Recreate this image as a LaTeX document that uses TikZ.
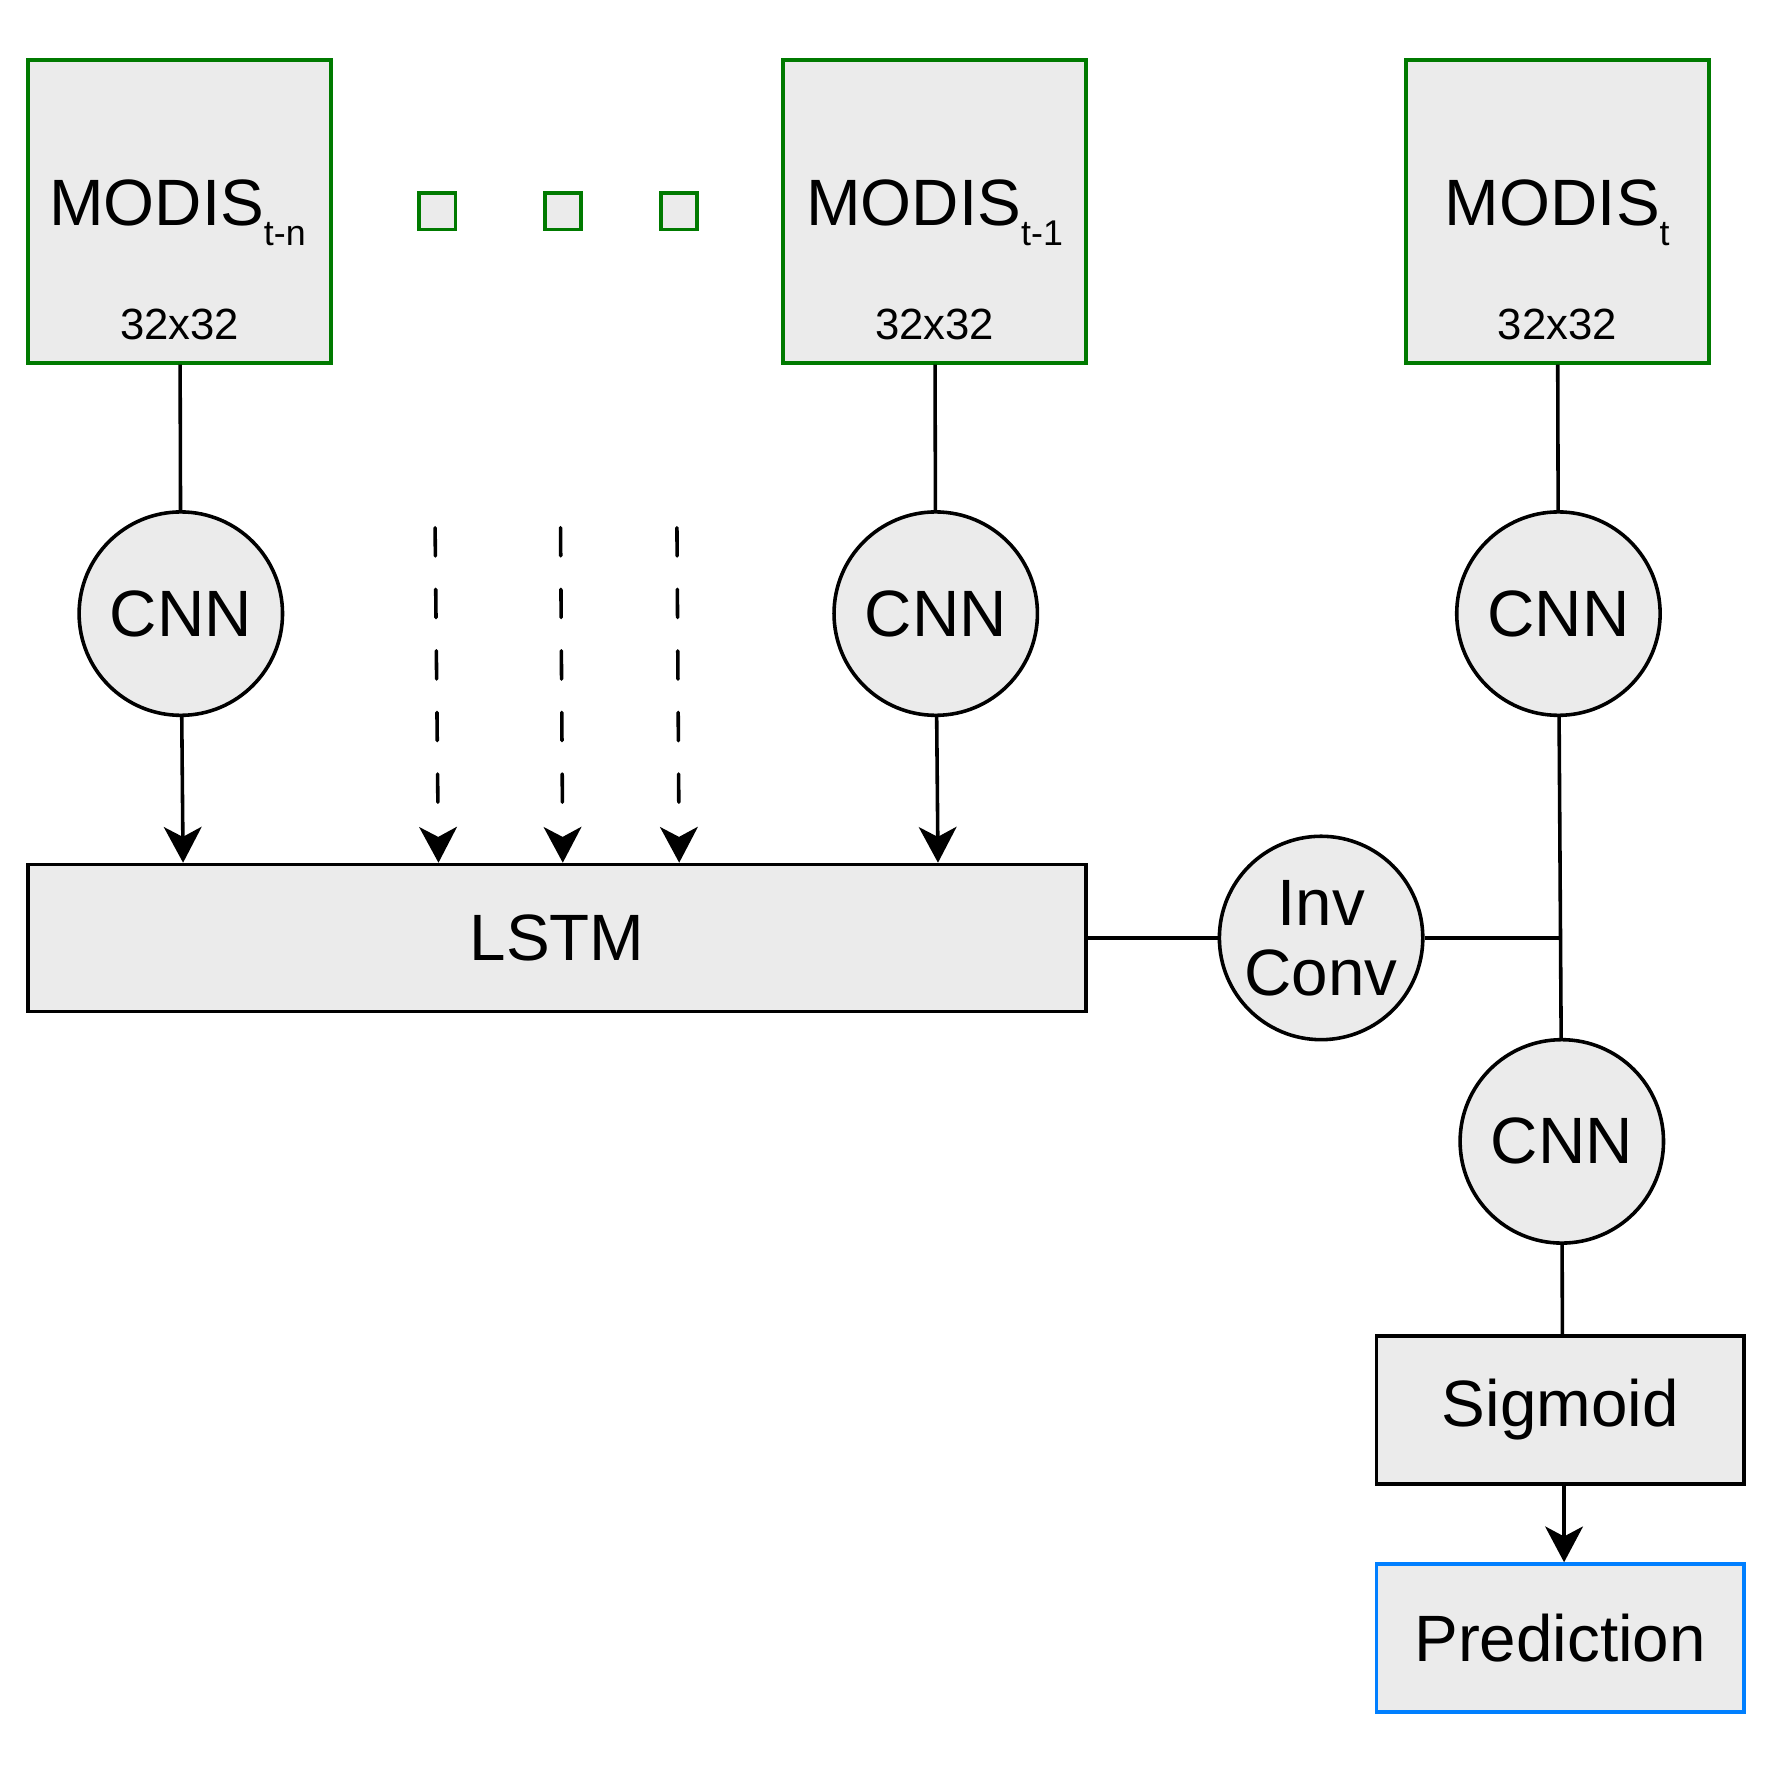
\documentclass[tikz,border=0pt]{standalone}
\usepackage{fontspec}
\setmainfont{Liberation Sans}
\usepackage{xcolor}
\usetikzlibrary{arrows.meta}
\definecolor{boxfill}{HTML}{EBEBEB}
\definecolor{modisgreen}{HTML}{007A00}
\definecolor{predblue}{HTML}{007FFF}
\newcommand{\tsub}[1]{\raisebox{-5pt}{\fontsize{9}{9}\selectfont #1}}

\begin{document}
\begin{tikzpicture}[line width=0.9pt, >={Stealth[length=9pt,width=9.5pt,inset=2.5pt]}]

			\tikzstyle{modis} = [draw=modisgreen,fill=boxfill,minimum size=2.68cm,inner sep=0pt]
			\tikzstyle{gapbox} = [draw=modisgreen,fill=boxfill,minimum size=0.32cm,inner sep=0pt]
			\tikzstyle{cnnnode} = [draw,circle,fill=boxfill,minimum size=1.8cm,inner sep=0pt,align=center,font=\fontsize{16.5}{17.6}\selectfont]
			\tikzstyle{block} = [draw,fill=boxfill,inner sep=0pt,font=\fontsize{16.5}{17.6}\selectfont]
			\tikzstyle{bigtext} = [anchor=base,inner sep=0pt,font=\fontsize{16.5}{17.6}\selectfont]
			\tikzstyle{sizetext} = [anchor=base,inner sep=0pt,font=\fontsize{11}{11}\selectfont]
			\tikzstyle{dasharrow} = [->,line cap=round,
				dash pattern=on 7.1pt off 8.4pt on 7.1pt off 8.4pt on 7.1pt off 8.4pt on 7.1pt off 8.4pt on 7.1pt off 40pt]

			\useasboundingbox (0,0) rectangle (15.68,15.68);

			% inputs
			\node[modis] (m1) at (1.59,13.81) {};
			\node[bigtext] (m1lab) at ([xshift=-0.02cm,yshift=-0.13cm]m1.center) {MODIS\tsub{t-n}};
			\node[sizetext] (m1size) at ([yshift=-1.13cm]m1.center) {32x32};

			\node[gapbox] (g1) at (3.87,13.81) {};
			\node[gapbox] (g2) at (4.98,13.81) {};
			\node[gapbox] (g3) at (6.01,13.81) {};

			\node[modis] (m2) at (8.27,13.81) {};
			\node[bigtext] (m2lab) at ([yshift=-0.13cm]m2.center) {MODIS\tsub{t-1}};
			\node[sizetext] (m2size) at ([yshift=-1.13cm]m2.center) {32x32};

			\node[modis] (m3) at (13.78,13.81) {};
			\node[bigtext] (m3lab) at ([yshift=-0.13cm]m3.center) {MODIS\tsub{t}};
			\node[sizetext] (m3size) at ([yshift=-1.13cm]m3.center) {32x32};

			% encoders
			\node[cnnnode] (cnn1) at (1.60,10.25) {CNN};
			\node[cnnnode] (cnn2) at (8.28,10.25) {CNN};
			\node[cnnnode] (cnn3) at (13.79,10.25) {CNN};

			\node[block,minimum width=9.36cm,minimum height=1.30cm] (lstm) at (4.93,7.38) {LSTM};
			\node[cnnnode] (inv) at (11.69,7.38) {Inv\\Conv};
			\node[cnnnode] (cnn4) at (13.82,5.58) {CNN};

			\node[block,minimum width=3.25cm,minimum height=1.31cm] (sig) at (13.805,3.205) {Sigmoid};
			\node[block,draw=predblue,minimum width=3.25cm,minimum height=1.31cm] (pred) at (13.805,1.185) {Prediction};

			\coordinate (d1) at (3.85,11.01);
			\coordinate (d2) at (4.96,11.01);
			\coordinate (d3) at (5.99,11.01);

			\draw (m1) -- (cnn1);
			\draw (m2) -- (cnn2);
			\draw (m3) -- (cnn3);

			\draw[->] (cnn1) -- ([xshift=0.02cm]cnn1.south |- lstm.north);
			\draw[->] (cnn2) -- ([xshift=0.02cm]cnn2.south |- lstm.north);
			\draw[dasharrow] (d1) -- ([xshift=0.03cm]d1 |- lstm.north);
			\draw[dasharrow] (d2) -- ([xshift=0.02cm]d2 |- lstm.north);
			\draw[dasharrow] (d3) -- ([xshift=0.02cm]d3 |- lstm.north);

			\draw (lstm) -- (inv);
			\draw (inv) -- (inv.east -| cnn4.north);
			\draw (cnn3) -- (cnn4);
			\draw (cnn4) -- ([xshift=0.02cm]sig.north);
			\draw[->] ([xshift=0.035cm]sig.south) -- ([xshift=0.035cm]pred.north);
		\end{tikzpicture}
\end{document}
